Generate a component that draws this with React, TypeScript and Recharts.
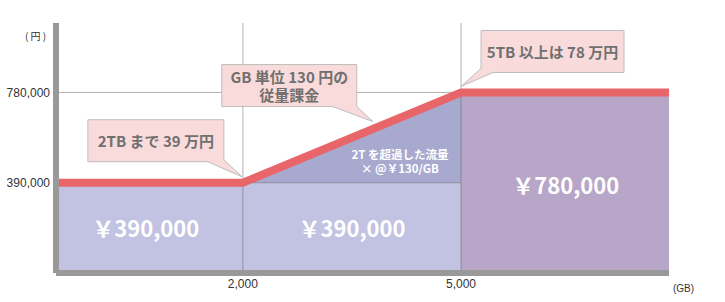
import { ComposedChart, Area, Line, XAxis, YAxis, ReferenceLine, ReferenceDot } from "recharts";

// GB usage breakpoints (schematic axis, left edge sits a bit before 0)
const gbPoints = [-570, 2000, 5000, 7860];
const priceYen = [390000, 390000, 780000, 780000];
const baseTierYen = [390000, 390000, 390000, null];
const meteredTopYen = [null, 390000, 780000, null];
const flatTierYen = [null, null, 780000, 780000];

const xTicks = [2000, 5000];
const yTicks = [390000, 780000];

const areaLabels = ["￥390,000", "￥390,000", "￥780,000"];
const areaLabelGb = [665, 3500, 6440];
const areaLabelYen = [197000, 197000, 385000];

const meteredNote = ["2T を超過した流量", "× @￥130/GB"];
const meteredNoteGb = 4160;
const meteredNoteYen = 482000;

const calloutTexts = [["2TB まで 39 万円"], ["GB 単位 130 円の", "従量課金"], ["5TB 以上は 78 万円"]];
const calloutGb = [2000, 3800, 5000];
const calloutYen = [390000, 624000, 780000];

const table = gbPoints.map((gb, i) => ({
  gb,
  price: priceYen[i],
  base: baseTierYen[i],
  metered: meteredTopYen[i] == null ? null : [390000, meteredTopYen[i]],
  flat: flatTierYen[i],
}));

// callout box geometry, relative to the anchor point on the price line
const calloutShapes = [
  { d: "M-155,-63 H-19 V-23 L-1,-6 L-35,-21 H-155 Z", tx: -87, ty: [-42] },
  { d: "M-152,-64 H-17 V-22 L-1,-7 L-41,-22 H-152 Z", tx: -84.5, ty: [-52, -34] },
  { d: "M20,-62 H163 V-20 H32 L0,-6 L20,-24 Z", tx: 91.5, ty: [-41] },
];

const fmt = (v: number) => v.toLocaleString("en-US");

function Callout({ cx, cy, i }: { cx: number; cy: number; i: number }) {
  const s = calloutShapes[i];
  return (
    <g transform={`translate(${cx},${cy})`}>
      <path d={s.d} fill="#f9dbdb" stroke="#bdbdbd" strokeWidth={1} />
      {calloutTexts[i].map((t, k) => (
        <text
          key={k}
          x={s.tx}
          y={s.ty[k]}
          textAnchor="middle"
          dominantBaseline="central"
          fontSize={15}
          fontWeight={700}
          fill="#707070"
        >
          {t}
        </text>
      ))}
    </g>
  );
}

export default function App() {
  return (
    <div
      style={{
        position: "absolute",
        left: 0,
        top: 0,
        width: 725,
        height: 302,
        background: "#fff",
        fontFamily: "'Noto Sans CJK JP', 'Liberation Sans', sans-serif",
      }}
    >
      <ComposedChart width={725} height={302} data={table} margin={{ top: 23, right: 56, bottom: 9, left: 0 }}>
        <XAxis
          dataKey="gb"
          type="number"
          domain={[gbPoints[0], gbPoints[gbPoints.length - 1]]}
          ticks={xTicks}
          tickFormatter={fmt}
          tickLine={false}
          tickSize={0}
          tickMargin={6}
          height={20}
          axisLine={{ stroke: "#999", strokeWidth: 6 }}
          tick={{ fill: "#333", fontSize: 12, fontFamily: "'Liberation Sans', sans-serif" }}
        />
        <YAxis
          type="number"
          domain={[0, 1080000]}
          ticks={yTicks}
          tickFormatter={fmt}
          tickLine={false}
          tickSize={0}
          tickMargin={6}
          width={56}
          axisLine={{ stroke: "#999", strokeWidth: 6 }}
          tick={{ fill: "#333", fontSize: 12, fontFamily: "'Liberation Sans', sans-serif" }}
        />
        <Area type="linear" dataKey="base" stroke="none" fill="#c2c2e2" fillOpacity={1} isAnimationActive={false} dot={false} activeDot={false} />
        <Area type="linear" dataKey="metered" stroke="none" fill="#a7a9cf" fillOpacity={1} isAnimationActive={false} dot={false} activeDot={false} />
        <Area type="linear" dataKey="flat" stroke="none" fill="#b8a6c8" fillOpacity={1} isAnimationActive={false} dot={false} activeDot={false} />
        <ReferenceLine x={xTicks[0]} stroke="#555" strokeOpacity={0.45} />
        <ReferenceLine x={xTicks[1]} stroke="#555" strokeOpacity={0.45} />
        <ReferenceLine y={yTicks[1]} stroke="#555" strokeOpacity={0.45} />
        <ReferenceLine
          segment={[
            { x: xTicks[0], y: yTicks[0] },
            { x: xTicks[1], y: yTicks[0] },
          ]}
          stroke="#555"
          strokeOpacity={0.45}
        />
        <Line type="linear" dataKey="price" stroke="#e8666a" strokeWidth={8} dot={false} activeDot={false} isAnimationActive={false} />
        {areaLabels.map((t, i) => (
          <ReferenceDot
            key={"al" + i}
            x={areaLabelGb[i]}
            y={areaLabelYen[i]}
            r={0}
            ifOverflow="visible"
            shape={(p: any) => (
              <text x={p.cx} y={p.cy} textAnchor="middle" dominantBaseline="central" fontSize={22} fontWeight={700} fill="#fff">
                {t}
              </text>
            )}
          />
        ))}
        <ReferenceDot
          x={meteredNoteGb}
          y={meteredNoteYen}
          r={0}
          ifOverflow="visible"
          shape={(p: any) => (
            <g>
              {meteredNote.map((t, k) => (
                <text key={k} x={p.cx} y={p.cy - 7 + k * 14} textAnchor="middle" dominantBaseline="central" fontSize={11.5} fontWeight={700} fill="#fff">
                  {t}
                </text>
              ))}
            </g>
          )}
        />
        {calloutTexts.map((_, i) => (
          <ReferenceDot
            key={"co" + i}
            x={calloutGb[i]}
            y={calloutYen[i]}
            r={0}
            ifOverflow="visible"
            shape={(p: any) => <Callout cx={p.cx} cy={p.cy} i={i} />}
          />
        ))}
      </ComposedChart>
      <div style={{ position: "absolute", left: 25, top: 29, fontSize: 10, color: "#333", lineHeight: "14px" }}>( 円 )</div>
      <div style={{ position: "absolute", left: 673, top: 282, fontSize: 10, color: "#333", lineHeight: "14px", fontFamily: "'Liberation Sans', sans-serif" }}>(GB)</div>
    </div>
  );
}
